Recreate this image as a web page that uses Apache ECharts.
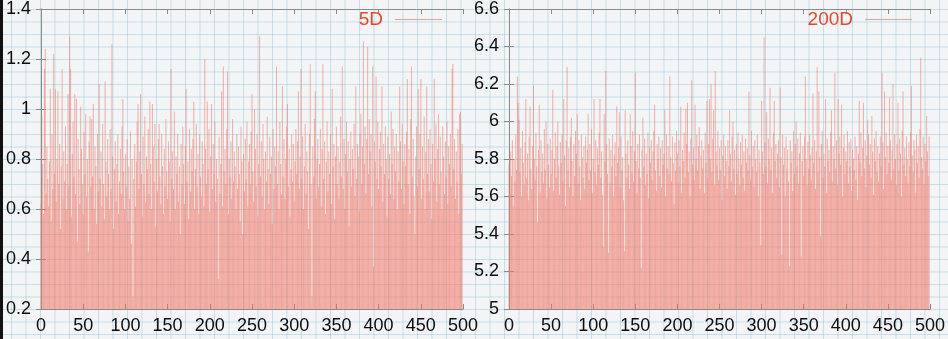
<!DOCTYPE html>
<html>
<head>
<meta charset="utf-8">
<script src="https://cdn.jsdelivr.net/npm/echarts@6/dist/echarts.min.js"></script>
<style>
html,body{margin:0;padding:0;}
body{
  width:948px;height:339px;overflow:hidden;
  background-color:#f2f4f5;
  background-image:
    linear-gradient(to right, rgba(140,195,215,0.45) 1px, transparent 1px),
    linear-gradient(to bottom, rgba(140,195,215,0.45) 1px, transparent 1px);
  background-size:14.5px 12.5px;
  background-position:11px 9px;
}
#edge{position:absolute;left:0;top:0;width:3px;height:339px;background:#111;}
#chart{position:absolute;left:0;top:0;width:948px;height:339px;}
</style>
</head>
<body>
<div id="edge"></div>
<div id="chart"></div>
<script>
// ---- data ----
const seriesNames = ['5D', '200D'];
const xTicks = [0, 50, 100, 150, 200, 250, 300, 350, 400, 450, 500];
const yTicks5D = [0.2, 0.4, 0.6, 0.8, 1, 1.2, 1.4];
const yTicks200D = [5, 5.2, 5.4, 5.6, 5.8, 6, 6.2, 6.4, 6.6];

const values5D = [
0.62,0.97,0.78,0.58,1.16,1.24,0.66,0.85,0.72,0.61,
0.79,1.08,0.55,0.90,0.68,1.22,0.74,1.08,0.63,0.80,
1.07,0.70,0.86,0.52,0.77,1.16,0.64,0.83,0.71,0.93,
0.60,0.78,1.06,0.69,1.29,1.16,0.57,0.82,0.95,0.73,
1.06,0.66,1.04,0.47,0.88,0.76,0.62,1.01,0.84,0.70,
0.58,0.91,0.74,0.98,0.65,0.80,0.43,0.87,0.97,0.69,
0.96,0.73,1.02,0.60,0.85,0.77,0.54,0.90,0.67,1.10,
0.72,0.83,0.61,0.94,0.70,0.56,1.11,0.79,0.65,0.88,
0.74,0.60,0.92,0.68,1.26,0.81,0.52,0.76,0.87,0.63,
0.78,0.90,0.58,0.71,0.84,0.66,0.93,1.04,0.75,0.60,
0.82,0.69,0.88,0.55,0.77,0.64,0.91,0.46,0.80,0.25,
0.72,0.86,0.61,0.79,0.95,1.02,0.68,0.83,1.06,0.74,
0.57,0.89,0.70,0.97,0.63,0.81,0.76,0.92,0.66,1.03,
0.78,0.60,1.02,0.85,0.71,0.94,0.53,0.80,0.67,0.88,
0.94,0.73,0.62,0.90,0.77,0.58,0.84,0.69,0.96,0.75,
0.64,0.87,0.79,0.55,1.16,0.72,0.83,0.68,0.99,0.60,
0.81,0.74,0.90,0.63,0.77,0.50,0.86,0.70,0.93,0.78,
0.62,0.85,1.08,0.71,0.79,0.56,0.92,0.67,0.84,0.75,
0.88,1.03,0.60,0.76,0.94,0.69,0.82,0.58,0.90,0.73,
0.65,0.87,0.78,0.61,1.20,0.84,0.70,1.03,0.76,0.92,
0.59,0.81,1.02,0.68,0.86,0.74,0.95,0.63,0.80,0.72,
0.32,0.89,0.66,0.78,1.07,0.61,1.17,0.75,0.84,0.70,
0.92,1.15,0.58,0.80,0.73,0.87,0.64,0.96,0.71,0.83,
0.77,0.60,0.90,0.68,0.85,0.74,0.55,0.93,0.79,0.50,
0.82,0.67,0.88,0.72,0.95,0.61,0.79,0.86,0.70,0.91,
1.06,0.75,0.63,1.00,0.84,0.69,0.90,0.57,0.78,1.29,
0.73,0.87,0.65,0.94,0.80,0.60,0.83,0.71,0.97,0.76,
0.62,0.89,0.74,0.81,0.54,0.92,0.68,0.85,0.77,1.17,
0.70,0.83,0.60,0.95,0.78,0.66,1.09,0.73,0.88,0.64,
0.80,0.93,1.02,0.69,0.84,0.57,0.76,0.90,0.71,0.86,
0.63,0.79,0.92,0.74,0.87,1.07,0.68,0.81,1.16,0.72,
0.89,0.60,0.77,0.94,0.66,0.83,0.75,0.52,0.90,1.18,
0.70,0.25,0.85,0.73,0.96,1.07,0.64,0.80,0.88,0.69,
0.78,0.92,0.61,0.84,1.18,0.72,0.87,0.58,0.79,0.95,
0.67,0.83,0.74,0.90,0.62,1.08,0.77,0.86,0.56,0.81,
0.93,0.70,0.85,0.64,0.79,0.97,0.73,1.17,0.68,0.88,
0.60,0.82,0.95,0.75,0.87,0.53,0.80,0.91,0.69,0.84,
0.76,0.94,0.65,1.09,0.72,0.86,0.81,0.59,0.90,0.98,
0.70,0.85,1.27,0.78,0.93,0.66,0.88,1.25,0.74,0.96,
0.83,0.90,0.61,1.17,0.37,0.87,0.79,1.13,0.72,0.95,
0.68,0.84,0.91,0.77,1.09,0.63,0.86,0.74,0.93,0.80,
0.57,0.89,0.72,0.82,0.66,0.99,0.78,0.92,0.64,0.85,
0.75,0.90,0.60,0.83,0.71,1.09,0.87,0.68,0.94,0.79,
0.62,0.86,0.77,0.91,1.12,0.70,0.84,0.58,0.96,1.17,
0.73,0.88,0.65,0.50,0.81,0.93,0.69,1.08,0.76,0.90,
1.12,0.64,0.85,0.72,0.97,0.60,0.83,1.09,0.74,0.88,
0.67,0.92,0.78,0.56,0.86,0.71,1.12,0.80,0.94,0.63,
0.84,0.98,0.70,0.89,0.75,0.60,0.93,0.81,0.66,0.87,
0.73,0.95,0.62,0.85,0.78,0.90,0.69,1.16,1.18,0.76,
0.88,0.64,0.83,0.71,0.92,0.58,0.98,0.99,0.74,0.86
];

const values200D = [
5.77,5.62,5.84,5.71,5.90,5.55,5.80,5.68,5.93,5.74,
6.24,6.10,6.01,5.73,5.86,5.60,5.95,5.78,5.66,5.89,
6.12,5.70,5.83,5.58,5.92,6.08,5.75,5.64,5.87,6.19,
5.80,5.69,5.94,5.76,5.46,5.85,6.09,5.62,5.90,5.73,
5.83,5.67,5.96,5.74,6.00,5.59,5.88,5.77,5.65,5.91,
5.72,5.85,6.17,5.63,5.80,5.94,5.70,5.87,6.00,5.76,
5.61,5.89,5.78,5.93,5.68,6.12,5.82,5.55,5.90,6.29,
5.74,5.86,5.65,5.92,6.02,5.79,5.60,5.88,5.71,5.95,
5.83,6.04,5.67,5.90,5.76,5.58,5.93,5.81,5.70,5.87,
5.64,5.92,5.78,5.85,6.04,5.69,5.88,5.74,5.96,5.62,
5.80,6.12,5.73,5.90,5.66,5.86,5.77,5.94,6.12,5.70,
5.84,5.61,5.33,6.04,5.79,6.27,5.88,5.72,5.30,5.91,
5.67,5.85,5.76,5.93,5.60,5.82,5.89,5.71,6.08,5.78,
5.86,6.05,5.65,5.92,5.74,5.81,5.58,5.31,6.06,5.83,
5.70,5.90,5.77,5.64,6.04,5.87,5.73,5.95,5.68,5.84,
6.26,5.79,5.62,5.88,5.75,5.93,5.70,5.22,5.85,6.02,
5.76,5.91,5.66,5.83,5.72,5.94,5.59,5.86,5.78,5.90,
5.69,5.84,5.95,6.09,5.74,5.63,5.88,5.80,5.92,5.71,
5.86,5.65,5.90,5.77,5.83,6.06,5.60,5.93,5.75,5.87,
5.72,6.24,5.81,5.68,5.92,5.78,5.56,5.89,5.74,5.95,
5.83,5.67,5.90,5.76,6.08,5.62,5.85,5.79,5.94,5.70,
6.07,5.88,6.10,5.73,5.84,5.60,5.91,6.22,5.77,5.86,
5.69,6.09,5.80,5.93,5.74,5.87,5.97,5.64,5.82,5.90,
5.75,5.85,5.62,5.94,5.78,6.11,5.70,5.88,6.12,5.80,
6.20,5.73,5.91,6.06,5.66,6.27,5.84,5.77,5.95,5.69,
5.86,5.74,5.90,5.58,5.82,5.93,5.71,5.87,5.79,5.64,
5.90,5.76,6.06,5.83,5.68,5.92,6.00,5.75,5.85,5.61,
5.88,5.72,5.94,5.80,5.66,5.89,5.77,5.93,5.70,5.84,
5.63,5.91,5.78,5.86,5.74,6.16,5.82,5.69,5.95,5.76,
5.87,5.65,5.90,5.80,5.73,5.93,5.60,5.85,5.78,5.34,
6.11,5.84,5.72,6.45,5.89,5.76,6.05,5.67,5.91,5.80,
6.18,5.74,5.86,5.62,5.94,6.11,5.79,5.88,5.70,5.83,
5.90,5.65,6.18,5.81,5.29,5.93,5.77,5.86,5.60,5.92,
5.75,5.85,5.68,5.23,5.90,5.78,5.84,5.63,5.95,5.72,
5.88,6.00,5.76,5.91,5.67,5.83,5.94,5.28,5.79,5.87,
5.71,5.92,6.24,5.80,5.66,5.89,5.75,5.93,5.82,5.69,
5.86,6.15,5.78,5.90,5.64,5.84,6.29,5.73,6.16,5.81,
5.39,5.88,5.95,5.70,5.83,5.76,6.12,5.62,5.91,5.79,
5.85,5.73,5.94,6.06,5.68,5.87,5.80,6.26,5.75,5.90,
5.66,6.12,5.83,5.92,5.77,6.09,5.60,5.86,5.93,5.72,
5.84,5.79,5.95,5.67,5.89,5.76,5.91,5.63,5.85,5.80,
5.74,5.92,5.69,5.87,5.58,5.83,6.11,5.78,5.94,5.71,
5.86,6.10,5.75,5.90,5.65,5.82,6.01,5.93,5.77,5.88,
5.70,6.03,5.84,5.61,5.91,5.79,5.95,5.73,5.87,5.68,
5.83,5.92,5.76,6.26,5.89,5.64,6.16,5.81,5.94,5.72,
5.87,5.78,6.13,5.90,5.69,5.85,6.20,5.75,5.93,5.80,
5.66,5.88,6.10,5.74,5.91,5.83,5.60,5.95,6.16,5.77,
5.86,5.71,5.92,5.80,5.67,5.89,5.76,5.94,6.19,5.82,
5.73,5.90,5.85,5.62,5.93,5.78,5.87,5.70,5.96,6.34,
5.81,5.75,5.92,5.66,5.88,5.79,6.03,5.84,5.71,5.92
];

// ---- chart ----
const FONT = '"Liberation Sans", Arial, sans-serif';
const axisLineStyle = { show: true, lineStyle: { color: '#8a8a8a', width: 1 } };
const tickStyle = { show: true, inside: true, length: 5, lineStyle: { color: '#8a8a8a' } };
const labelStyle = { color: '#0d0d0d', fontSize: 18, fontFamily: FONT };
const fmt = v => String(parseFloat(v.toFixed(1)));
const barColor = 'rgba(238,116,102,0.55)';

function xAxes(gridIndex) {
  const base = { type: 'value', gridIndex, min: xTicks[0], max: xTicks[xTicks.length - 1],
    interval: xTicks[1] - xTicks[0], splitLine: { show: false }, axisLine: axisLineStyle, axisTick: tickStyle };
  return [
    Object.assign({}, base, { position: 'bottom', axisLabel: Object.assign({ margin: 8, formatter: fmt }, labelStyle) }),
    Object.assign({}, base, { position: 'top', axisLabel: { show: false } })
  ];
}
function yAxes(gridIndex, ticks) {
  const base = { type: 'value', gridIndex, min: ticks[0], max: ticks[ticks.length - 1],
    interval: +(ticks[1] - ticks[0]).toFixed(2), splitLine: { show: false }, axisLine: axisLineStyle, axisTick: tickStyle };
  return [
    Object.assign({}, base, { position: 'left', axisLabel: Object.assign({ margin: 10, formatter: fmt }, labelStyle) }),
    Object.assign({}, base, { position: 'right', axisLabel: { show: false } })
  ];
}

function legendFor(name, right) {
  return { data: [name], right, top: 10, padding: 0, align: 'right', icon: 'rect', itemWidth: 47, itemHeight: 1,
    itemStyle: { color: '#d9a4a0' },
    textStyle: { color: '#e5472f', fontSize: 19, fontFamily: FONT, padding: [0, 7, 0, 0] },
    selectedMode: false };
}

const chart = echarts.init(document.getElementById('chart'), null, { renderer: 'canvas' });
chart.setOption({
  backgroundColor: 'transparent',
  animation: false,
  grid: [
    { left: 41, right: 485, top: 6, bottom: 30 },
    { left: 509, right: 16, top: 6, bottom: 30 }
  ],
  xAxis: [...xAxes(0), ...xAxes(1)],
  yAxis: [...yAxes(0, yTicks5D), ...yAxes(1, yTicks200D)],
  legend: [legendFor(seriesNames[0], 506), legendFor(seriesNames[1], 36)],
  series: [
    { name: seriesNames[0], type: 'bar', xAxisIndex: 0, yAxisIndex: 0, barWidth: 1, clip: true,
      itemStyle: { color: barColor }, data: values5D.map((v, i) => [i, v]) },
    { name: seriesNames[1], type: 'bar', xAxisIndex: 2, yAxisIndex: 2, barWidth: 1, clip: true,
      itemStyle: { color: barColor }, data: values200D.map((v, i) => [i, v]) }
  ]
});
</script>
</body>
</html>
